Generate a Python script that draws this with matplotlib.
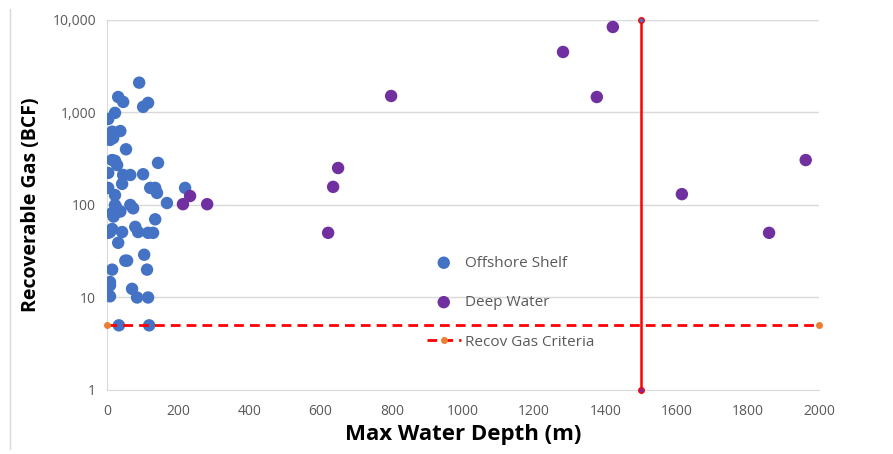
import matplotlib
matplotlib.use("Agg")
import matplotlib.pyplot as plt
from matplotlib.lines import Line2D
from matplotlib.ticker import FixedLocator, NullLocator

# ---- data ----
shelf_depth = [90, 31, 45, 101, 115, 3, 22, 14, 37, 8, 17, 53, 14, 22, 28, 3, 45, 65, 101, 143,
               3, 42, 121, 135, 219, 22, 140, 168, 22, 65, 73, 14, 37, 135, 8, 42, 79, 87, 115, 129,
               31, 104, 51, 56, 14, 112, 8, 8, 70, 8, 84, 115, 33, 118, 25, 18, 3, 14]
shelf_gas = [2100, 1470, 1300, 1150, 1270, 850, 990, 620, 630, 505, 530, 400, 306, 300, 270, 222, 211, 211, 215, 285,
             153, 169, 153, 153, 153, 128, 135, 105, 100, 100, 92, 82, 85, 70, 51, 51, 58, 51, 50, 50,
             39, 29, 25, 25, 20, 20, 14.7, 13.5, 12.4, 10.3, 10, 10, 5, 5, 95, 75, 50, 55]

deep_depth = [213, 233, 281, 621, 635, 649, 798, 1281, 1421, 1376, 1615, 1860, 1963]
deep_gas = [102, 125, 102, 50, 157, 251, 1508, 4510, 8400, 1470, 131, 50, 306]

criteria_depth = [0, 2000]
criteria_gas = [5, 5]

limit_depth = [1500, 1500]
limit_gas = [1, 10000]

y_ticks = [1, 10, 100, 1000, 10000]
y_tick_labels = ["1", "10", "100", "1,000", "10,000"]
x_ticks = list(range(0, 2001, 200))

plt.rcParams['font.family'] = ['Open Sans', 'DejaVu Sans']

fig = plt.figure(figsize=(8.93, 4.54), dpi=100)
ax = fig.add_axes([0.12, 0.141, 0.797, 0.815])

blue = "#4472C4"
purple = "#7030A0"
red = "#FF0000"
orange = "#ED7D31"
tick_col = "#595959"

ax.set_yscale("log")
ax.set_xlim(0, 2000)
ax.set_ylim(1, 10000)

for yv in y_ticks[1:]:
    ax.axhline(yv, color="#D9D9D9", lw=1, zorder=0)

ax.scatter(shelf_depth, shelf_gas, s=80, color=blue, edgecolors="none", zorder=3, label="Offshore Shelf")
ax.scatter(deep_depth, deep_gas, s=80, color=purple, edgecolors="none", zorder=3, label="Deep Water")
ax.plot(criteria_depth, criteria_gas, color=red, lw=2, ls=(0, (3.5, 2.2)), marker="o", ms=4,
        mfc=orange, mec=orange, zorder=4, label="Recov Gas Criteria", clip_on=False)
ax.plot(limit_depth, limit_gas, color=red, lw=1.8, zorder=4, clip_on=False)
ax.plot([limit_depth[0]], [limit_gas[1]], marker="o", ms=4, mfc=blue, mec=red, zorder=5, clip_on=False)
ax.plot([limit_depth[0]], [limit_gas[0]], marker="o", ms=4, mfc=purple, mec=red, zorder=5, clip_on=False)

ax.yaxis.set_major_locator(FixedLocator(y_ticks))
ax.yaxis.set_minor_locator(NullLocator())
ax.set_yticklabels(y_tick_labels)
ax.set_xticks(x_ticks)
ax.tick_params(axis="both", length=0, labelsize=10, colors=tick_col)
ax.tick_params(axis="x", pad=10)
ax.tick_params(axis="y", pad=8)

for s in ["top", "right"]:
    ax.spines[s].set_visible(False)
ax.spines["left"].set_color("#D9D9D9")
ax.spines["bottom"].set_color("#D9D9D9")

ax.set_xlabel("Max Water Depth (m)", fontsize=16, fontweight="bold", color="black", labelpad=4)
ax.set_ylabel("Recoverable Gas (BCF)", fontsize=14, fontweight="bold", color="black", labelpad=8)

leg = ax.legend(loc="upper left", bbox_to_anchor=(0.43, 0.40), frameon=False, fontsize=11,
                labelspacing=1.6, handlelength=2.2, handletextpad=0.3, labelcolor="#595959")

fig.add_artist(Line2D([0.011, 0.011], [0.01, 0.98], transform=fig.transFigure, color="#D9D9D9", lw=1))

fig.savefig("out.png", dpi=100)
